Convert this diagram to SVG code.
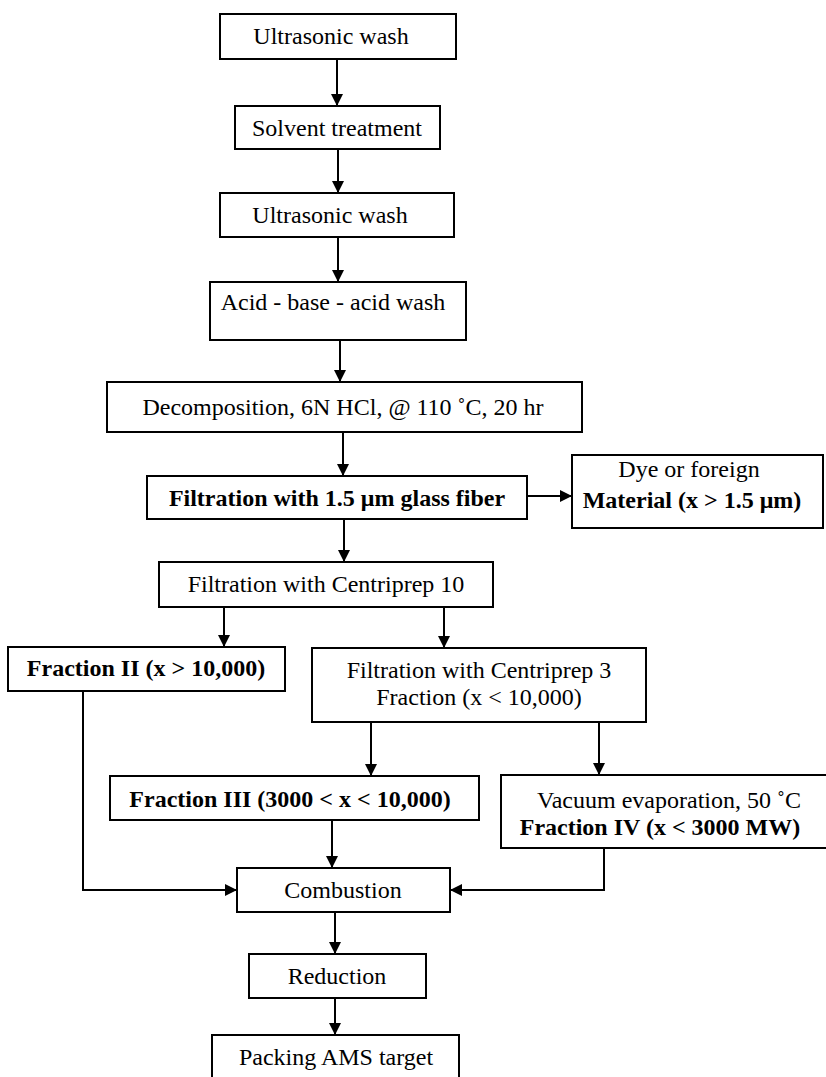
<svg xmlns="http://www.w3.org/2000/svg" width="826" height="1077" viewBox="0 0 826 1077">
<style>
  .box { fill: #fff; stroke: #000; stroke-width: 2; }
  .t { font-family: "Liberation Serif", "Times New Roman", serif; font-size: 24px; fill: #000; text-anchor: middle; }
  .b { font-weight: bold; }
  .c { fill: none; stroke: #000; stroke-width: 2; }
</style>
<defs>
  <marker id="ah" markerUnits="userSpaceOnUse" markerWidth="12" markerHeight="12" viewBox="0 0 12 12" refX="12" refY="6" orient="auto">
    <path d="M0,0 L12,6 L0,12 Z" fill="#000"/>
  </marker>
</defs>
<rect width="826" height="1077" fill="#fff"/>
<g id="connectors">
  <path class="c" d="M337,59 V106" marker-end="url(#ah)"/>
  <path class="c" d="M338,149 V193" marker-end="url(#ah)"/>
  <path class="c" d="M338,237 V282" marker-end="url(#ah)"/>
  <path class="c" d="M340,340 V382" marker-end="url(#ah)"/>
  <path class="c" d="M343,432 V476" marker-end="url(#ah)"/>
  <path class="c" d="M527,496 H572" marker-end="url(#ah)"/>
  <path class="c" d="M344,519 V562" marker-end="url(#ah)"/>
  <path class="c" d="M224,607 V647" marker-end="url(#ah)"/>
  <path class="c" d="M444,607 V648" marker-end="url(#ah)"/>
  <path class="c" d="M371,722 V776" marker-end="url(#ah)"/>
  <path class="c" d="M599,722 V775" marker-end="url(#ah)"/>
  <path class="c" d="M83,691 V890 H237" marker-end="url(#ah)"/>
  <path class="c" d="M332,820 V868" marker-end="url(#ah)"/>
  <path class="c" d="M604,848 V890 H450" marker-end="url(#ah)"/>
  <path class="c" d="M335,912 V954" marker-end="url(#ah)"/>
  <path class="c" d="M335,998 V1035" marker-end="url(#ah)"/>
</g>
<g id="n1"><rect class="box" x="220" y="14" width="236" height="45"/><text class="t" x="331" y="44">Ultrasonic wash</text></g>
<g id="n2"><rect class="box" x="235" y="106" width="205" height="43"/><text class="t" x="337" y="136">Solvent treatment</text></g>
<g id="n3"><rect class="box" x="220" y="193" width="234" height="44"/><text class="t" x="330" y="223">Ultrasonic wash</text></g>
<g id="n4"><rect class="box" x="210" y="282" width="256" height="58"/><text class="t" x="333" y="310">Acid - base - acid wash</text></g>
<g id="n5"><rect class="box" x="107" y="382" width="475" height="50"/><text class="t" x="343" y="415">Decomposition, 6N HCl, @ 110 ˚C, 20 hr</text></g>
<g id="n6"><rect class="box" x="147" y="476" width="380" height="43"/><text class="t b" x="337" y="506">Filtration with 1.5 μm glass fiber</text></g>
<g id="n7"><rect class="box" x="572" y="455" width="251" height="73"/><text class="t" x="689" y="477">Dye or foreign</text><text class="t b" x="692" y="508">Material (x &gt; 1.5 μm)</text></g>
<g id="n8"><rect class="box" x="159" y="562" width="334" height="45"/><text class="t" x="326" y="592">Filtration with Centriprep 10</text></g>
<g id="n9"><rect class="box" x="8" y="647" width="277" height="44"/><text class="t b" x="146" y="676">Fraction II (x &gt; 10,000)</text></g>
<g id="n10"><rect class="box" x="312" y="648" width="334" height="74"/><text class="t" x="479" y="678">Filtration with Centriprep 3</text><text class="t" x="479" y="705">Fraction (x &lt; 10,000)</text></g>
<g id="n11"><rect class="box" x="110" y="776" width="369" height="44"/><text class="t b" x="290" y="807">Fraction III (3000 &lt; x &lt; 10,000)</text></g>
<g id="n12"><rect class="box" x="501" y="775" width="335" height="73"/><text class="t" x="669" y="808">Vacuum evaporation, 50 ˚C</text><text class="t b" x="660" y="835">Fraction IV (x &lt; 3000 MW)</text></g>
<g id="n13"><rect class="box" x="237" y="868" width="213" height="44"/><text class="t" x="343" y="898">Combustion</text></g>
<g id="n14"><rect class="box" x="249" y="954" width="177" height="44"/><text class="t" x="337" y="984">Reduction</text></g>
<g id="n15"><rect class="box" x="212" y="1035" width="247" height="50"/><text class="t" x="336" y="1065">Packing AMS target</text></g>
</svg>
